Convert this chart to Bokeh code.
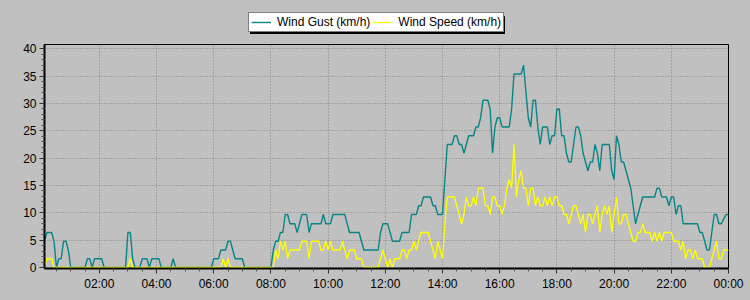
from bokeh.plotting import figure
from bokeh.layouts import column
from bokeh.models import (FixedTicker, Range1d, Legend, LegendItem, ColumnDataSource,
                          BoxAnnotation)
from bokeh.embed import file_html
from bokeh.resources import INLINE

# 5-minute samples, 00:05 .. 24:00 (hours)
times_h = [(i + 1) * 5 / 60 for i in range(288)]

wind_gust = [
    4.8, 6.4, 6.4, 6.4, 4.8, 0, 1.6, 1.6, 4.8, 4.8,
    3.2, 0, 0, 0, 0, 0, 0, 0, 1.6, 1.6,
    0, 1.6, 1.6, 1.6, 1.6, 0, 0, 0, 0, 0,
    0, 0, 0, 0, 0, 6.4, 6.4, 1.6, 0, 0,
    0, 1.6, 1.6, 1.6, 0, 1.6, 1.6, 1.6, 1.6, 0,
    0, 0, 0, 0, 1.6, 0, 0, 0, 0, 0,
    0, 0, 0, 0, 0, 0, 0, 0, 0, 0,
    0, 1.6, 1.6, 1.6, 3.2, 3.2, 3.2, 4.8, 4.8, 3.2,
    1.6, 1.6, 1.6, 1.6, 0, 0, 0, 0, 0, 0,
    0, 0, 0, 0, 0, 0, 3.2, 4.8, 4.8, 6.4,
    6.4, 9.7, 9.7, 8.0, 8.0, 8.0, 6.4, 8.0, 9.7, 9.7,
    9.7, 6.4, 8.0, 8.0, 8.0, 8.0, 8.0, 9.7, 8.0, 8.0,
    8.0, 9.7, 9.7, 9.7, 9.7, 9.7, 9.7, 8.0, 6.4, 6.4,
    6.4, 6.4, 6.4, 4.8, 3.2, 3.2, 3.2, 3.2, 3.2, 3.2,
    3.2, 6.4, 8.0, 8.0, 8.0, 6.4, 4.8, 4.8, 4.8, 4.8,
    6.4, 6.4, 6.4, 6.4, 9.7, 9.7, 9.7, 11.3, 11.3, 12.9,
    12.9, 12.9, 12.9, 11.3, 11.3, 9.7, 9.7, 9.7, 16.1, 22.5,
    22.5, 22.5, 24.1, 24.1, 22.5, 22.5, 20.9, 22.5, 24.1, 24.1,
    24.1, 25.7, 25.7, 27.4, 30.6, 30.6, 30.6, 29.0, 20.9, 25.7,
    27.4, 27.4, 25.7, 25.7, 25.7, 25.7, 29.0, 35.4, 35.4, 35.4,
    35.4, 37.0, 32.2, 27.4, 25.7, 30.6, 30.6, 25.7, 22.5, 25.7,
    25.7, 25.7, 22.5, 24.1, 24.1, 29.0, 29.0, 24.1, 24.1, 20.9,
    19.3, 19.3, 22.5, 25.7, 25.7, 24.1, 20.9, 19.3, 17.7, 19.3,
    19.3, 22.5, 20.9, 17.7, 22.5, 22.5, 22.5, 22.5, 17.7, 16.1,
    24.1, 22.5, 19.3, 19.3, 17.7, 16.1, 14.5, 11.3, 8.0, 9.7,
    11.3, 12.9, 12.9, 12.9, 12.9, 12.9, 12.9, 14.5, 14.5, 12.9,
    12.9, 12.9, 11.3, 12.9, 12.9, 9.7, 11.3, 11.3, 8.0, 8.0,
    8.0, 8.0, 8.0, 8.0, 8.0, 6.4, 6.4, 4.8, 3.2, 3.2,
    6.4, 9.7, 9.7, 8.0, 8.0, 8.9, 9.7, 9.7,
]

wind_speed = [
    0, 1.6, 1.6, 1.6, 0, 0, 0, 0, 0, 0,
    0, 0, 0, 0, 0, 0, 0, 0, 0, 0,
    0, 0, 0, 0, 0, 0, 0, 0, 0, 0,
    0, 0, 0, 0, 0, 0, 1.6, 0, 0, 0,
    0, 0, 0, 0, 0, 0, 0, 0, 0, 0,
    0, 0, 0, 0, 0, 0, 0, 0, 0, 0,
    0, 0, 0, 0, 0, 0, 0, 0, 0, 0,
    0, 0, 0, 0, 0, 1.6, 0, 1.6, 0, 0,
    0, 0, 0, 0, 0, 0, 0, 0, 0, 0,
    0, 0, 0, 0, 0, 0, 0, 3.2, 1.6, 4.8,
    3.2, 4.8, 1.6, 3.2, 3.2, 3.2, 3.2, 3.2, 4.8, 4.8,
    4.8, 1.6, 4.8, 4.8, 4.8, 4.8, 3.2, 3.2, 4.8, 3.2,
    4.8, 3.2, 3.2, 3.2, 3.2, 4.8, 3.2, 1.6, 3.2, 3.2,
    3.2, 1.6, 1.6, 1.6, 0, 0, 0, 0, 0, 0,
    0, 1.6, 3.2, 1.6, 0, 1.6, 0, 1.6, 1.6, 1.6,
    3.2, 3.2, 1.6, 3.2, 3.2, 4.8, 3.2, 4.8, 6.4, 6.4,
    6.4, 6.4, 4.8, 3.2, 1.6, 4.8, 3.2, 1.6, 8.0, 12.9,
    12.9, 12.9, 12.9, 11.3, 9.7, 8.0, 9.7, 12.9, 11.3, 11.3,
    12.9, 11.3, 14.5, 14.5, 14.5, 11.3, 11.3, 9.7, 12.9, 12.9,
    11.3, 11.3, 9.7, 11.3, 14.5, 16.1, 14.5, 22.5, 12.9, 16.1,
    17.7, 14.5, 14.5, 11.3, 14.5, 14.5, 11.3, 12.9, 11.3, 11.3,
    12.9, 11.3, 12.9, 11.3, 12.9, 12.9, 11.3, 11.3, 9.7, 9.7,
    8.0, 9.7, 11.3, 11.3, 9.7, 8.0, 9.7, 6.4, 9.7, 9.7,
    8.0, 9.7, 11.3, 6.4, 9.7, 11.3, 9.7, 11.3, 6.4, 9.7,
    12.9, 8.0, 8.0, 9.7, 9.7, 8.0, 6.4, 4.8, 4.8, 6.4,
    6.4, 8.0, 6.4, 6.4, 6.4, 4.8, 6.4, 4.8, 6.4, 4.8,
    6.4, 6.4, 6.4, 6.4, 4.8, 4.8, 4.8, 3.2, 4.8, 1.6,
    3.2, 3.2, 1.6, 3.2, 1.6, 1.6, 1.6, 0, 0, 0,
    1.6, 3.2, 4.8, 1.6, 1.6, 3.2, 3.2, 3.2,
]

series_labels = ["Wind Gust (km/h)", "Wind Speed (km/h)"]
series_colors = ["#0a8585", "#ffff00"]

x_tick_hours = [2, 4, 6, 8, 10, 12, 14, 16, 18, 20, 22, 24]
x_tick_labels = ["02:00", "04:00", "06:00", "08:00", "10:00", "12:00",
                 "14:00", "16:00", "18:00", "20:00", "22:00", "00:00"]
x_minor_hours = [h / 2 for h in range(1, 48) if h % 4 != 0]
y_ticks = [0, 5, 10, 15, 20, 25, 30, 35, 40]
y_minor = [v for v in range(1, 41) if v % 5 != 0]

BG = "#c0c0c0"
FONT = "Liberation Sans"

# ---------------- legend strip (top); its ranges are in pixels ----------------
top = figure(width=750, height=34, output_backend="svg", toolbar_location=None,
             x_axis_type=None, y_axis_type=None,
             x_range=Range1d(0, 684), y_range=Range1d(0, 34),
             min_border=0, min_border_left=0, min_border_right=0,
             min_border_top=0, min_border_bottom=0)
top.background_fill_color = BG
top.border_fill_color = BG
top.outline_line_color = None

# legend-key lines only (kept outside the visible range of this strip)
lg_g = top.line(x=[900, 901], y=[50, 50], line_color=series_colors[0], line_width=1.4)
lg_s = top.line(x=[900, 901], y=[50, 50], line_color=series_colors[1], line_width=1.3)

LEG_X, LEG_Y, LEG_W, LEG_H = 204, 2, 254, 18
top.add_layout(BoxAnnotation(left=LEG_X + 2, right=LEG_X + LEG_W + 2,
                             bottom=LEG_Y - 2, top=LEG_Y + LEG_H - 2,
                             fill_color="black", fill_alpha=1,
                             line_color="black", line_alpha=1))

legend = Legend(items=[LegendItem(label=series_labels[0], renderers=[lg_g]),
                       LegendItem(label=series_labels[1], renderers=[lg_s])],
                orientation="horizontal", location=(LEG_X, LEG_Y),
                border_line_color="black", border_line_width=1,
                background_fill_color="white", background_fill_alpha=1,
                label_text_font=FONT, label_text_font_size="12px",
                label_text_color="black",
                glyph_width=20, glyph_height=12, label_height=12,
                label_standoff=6, spacing=2, padding=2, margin=0)
top.add_layout(legend, "center")

# ---------------- main chart ----------------
source = ColumnDataSource(dict(t=times_h, gust=wind_gust, speed=wind_speed))

p = figure(width=750, height=266, output_backend="svg", toolbar_location=None,
           x_range=Range1d(5 / 60, 24), y_range=Range1d(-0.18, 40.79),
           min_border_left=44, min_border_right=22, min_border_top=10,
           min_border_bottom=32)
p.background_fill_color = BG
p.border_fill_color = BG
p.outline_line_color = "black"
p.outline_line_width = 1

p.line("t", "gust", source=source, line_color=series_colors[0], line_width=1.4)
p.line("t", "speed", source=source, line_color=series_colors[1], line_width=1.3)

p.xaxis.ticker = FixedTicker(ticks=x_tick_hours, minor_ticks=x_minor_hours)
p.xaxis.major_label_overrides = {h: lab for h, lab in zip(x_tick_hours, x_tick_labels)}
p.yaxis.ticker = FixedTicker(ticks=y_ticks, minor_ticks=y_minor)

for ax in (p.xaxis[0], p.yaxis[0]):
    ax.axis_line_color = "black"
    ax.axis_line_width = 2
    ax.major_tick_line_color = "#333333"
    ax.minor_tick_line_color = "#555555"
    ax.major_tick_out = 5
    ax.major_tick_in = 0
    ax.minor_tick_out = 3
    ax.minor_tick_in = 0
    ax.major_label_text_font = FONT
    ax.major_label_text_font_size = "12px"
    ax.major_label_text_color = "black"
    ax.major_label_standoff = 3

p.xgrid.ticker = FixedTicker(ticks=x_tick_hours)
p.ygrid.ticker = FixedTicker(ticks=y_ticks)
for gr in (p.xgrid[0], p.ygrid[0]):
    gr.grid_line_color = "#858585"
    gr.grid_line_dash = "1 2"
    gr.grid_line_width = 1

layout = column(top, p, spacing=0, styles={"background-color": BG})
open("out.html", "w").write(file_html(layout, INLINE))
